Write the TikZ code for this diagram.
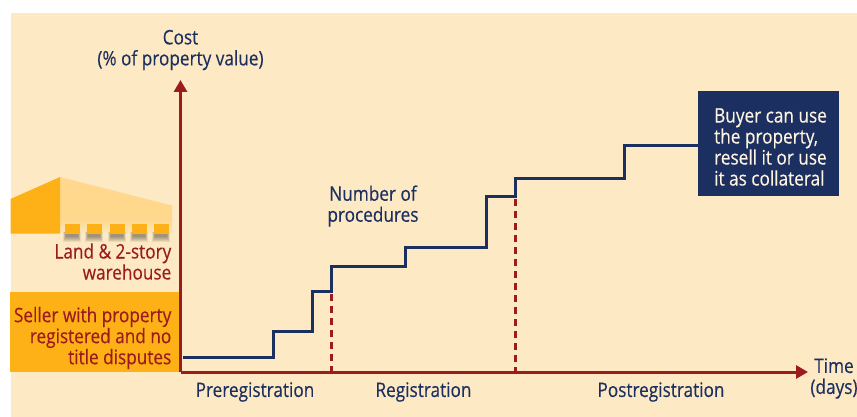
\documentclass[tikz,border=0pt]{standalone}
\usepackage{fontspec}
\setmainfont[FakeStretch=0.86,FakeBold=0.25]{Open Sans}
\definecolor{bgc}{HTML}{FDE9C4}
\definecolor{navy}{HTML}{1B2F60}
\definecolor{axisred}{HTML}{9B1B1E}
\definecolor{amber}{HTML}{FDB116}
\definecolor{lightamber}{HTML}{FFD88E}
\usetikzlibrary{arrows.meta,calc}
\tikzset{
  lbl/.style={font=\fontsize{20}{21}\selectfont,text=navy,inner sep=0pt,align=center},
  redlbl/.style={font=\fontsize{20}{21}\selectfont,text=axisred,inner sep=0pt,align=right,anchor=east},
  axisline/.style={draw=axisred,line width=3pt},
  stair/.style={draw=navy,line width=3pt},
  dashline/.style={draw=axisred,line width=3pt,dash pattern=on 7pt off 5pt},
  winshadow/.style={fill=black,opacity=0.07,draw=none},
  win/.style={fill=amber,draw=none,minimum width=14.5pt,minimum height=9.5pt,inner sep=0pt}
}
\begin{document}
\begin{tikzpicture}[x=1pt,y=-1pt]
\useasboundingbox (0,0) rectangle (857,417);
\fill[bgc] (10.5,13) rectangle (857,417);
% warehouse
\fill[lightamber] (60,177) -- (172,205.5) -- (172,220) -- (60,220) -- cycle;
\shade[top color=lightamber,bottom color=bgc] (60,220) rectangle (172,234);
\fill[amber] (10.5,199) -- (60,177) -- (60,233.5) -- (10.5,233.5) -- cycle;
\foreach \xx in {65,87,110,132,154}{
  \foreach \dd in {0,1,2,3,4,5}{
    \fill[winshadow] (\xx-2+0.6*\dd,232) rectangle (\xx+16-0.6*\dd,241.5-\dd);
  }
  \node[win,anchor=north west] (w\xx) at (\xx,224) {};
}
% seller box
\node[fill=amber,minimum width=170pt,minimum height=80pt,inner sep=0pt,anchor=north west] (seller) at (10,292) {};
\node[redlbl] (land) at (171.5,261.5) {Land \& 2-story\\warehouse};
\node[redlbl] (sellertxt) at (171.5,338) {Seller with property\\registered and no\\title disputes};
% buyer box
\node[fill=navy,minimum width=141pt,minimum height=105pt,inner sep=0pt,anchor=north west,text=white] (buyer) at (698,91) {};
\node[inner sep=0pt,align=left,anchor=west,text=bgc!50!white,font=\fontsize{20}{21}\selectfont] (buyertxt) at (714,147) {Buyer can use\\the property,\\resell it or use\\it as collateral};
% coordinates
\coordinate (origin) at (180.5,372);
\coordinate (ytip) at (180.5,80);
\coordinate (xtip) at (808,372);
\coordinate (start) at (183,357);
\coordinate (p1) at (331,294);
\coordinate (p2) at (515,199);
\coordinate (s1) at (331,266);
\coordinate (s2) at (515,179);
\coordinate (buyerin) at (buyer.west |- 0,146);
% dashed phase lines
\draw[dashline] (p1) -- (p1 |- origin);
\draw[dashline] (p2) -- (p2 |- origin);
% stairs
\draw[stair] (start) -| (273,331) -| (312,291) -| (s1) -| (405,247) -| (486,196) -| (s2) -| (624,146) -- (buyerin);
% axes
\draw[axisline,-{Triangle[length=12pt,width=13pt]}] (origin) -- (ytip);
\draw[axisline,-{Triangle[length=12pt,width=13pt]}] (origin) -- (xtip);
% labels
\node[lbl] (cost) at (180.5,50) {Cost\\(\% of property value)};
\node[lbl] (proc) at (373,206) {Number of\\procedures};
\node[lbl] (pre) at (255,392) {Preregistration};
\node[lbl] (reg) at (423.5,392) {Registration};
\node[lbl] (post) at (661,392) {Postregistration};
\node[lbl] (time) at (834,378.5) {Time\\(days)};
\end{tikzpicture}
\end{document}
